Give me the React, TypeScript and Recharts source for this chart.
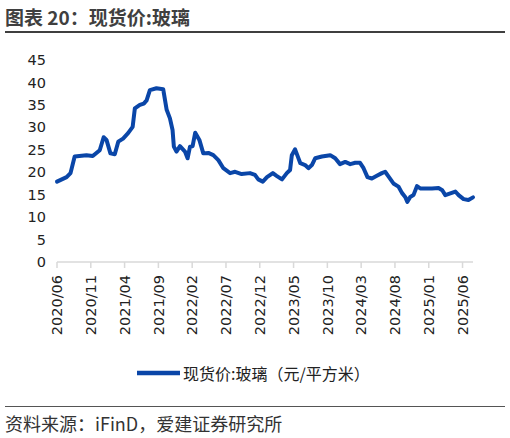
import React from "react";
import { LineChart, Line, XAxis, YAxis, Legend } from "recharts";

// 现货价:玻璃，元/平方米（读图估值）
const dates = [
  "2020-06-01", "2020-07-14", "2020-08-01", "2020-08-20", "2020-10-12", "2020-11-10",
  "2020-12-11", "2020-12-29", "2021-01-11", "2021-01-29", "2021-02-18", "2021-03-03",
  "2021-03-25", "2021-04-17", "2021-05-07", "2021-05-17", "2021-06-09", "2021-06-27",
  "2021-07-09", "2021-07-24", "2021-08-23", "2021-09-23", "2021-10-08", "2021-10-23",
  "2021-11-04", "2021-11-10", "2021-11-22", "2021-12-07", "2021-12-30", "2022-01-11",
  "2022-01-22", "2022-02-03", "2022-02-15", "2022-03-03", "2022-03-21", "2022-04-13",
  "2022-05-05", "2022-05-28", "2022-06-20", "2022-07-20", "2022-08-12", "2022-09-11",
  "2022-10-18", "2022-11-10", "2022-11-25", "2022-12-15", "2023-01-03", "2023-01-30",
  "2023-02-16", "2023-03-10", "2023-04-01", "2023-04-16", "2023-04-24", "2023-05-08",
  "2023-05-18", "2023-06-01", "2023-06-23", "2023-07-07", "2023-07-23", "2023-08-07",
  "2023-09-07", "2023-10-14", "2023-11-06", "2023-11-28", "2023-12-21", "2024-01-13",
  "2024-02-05", "2024-02-27", "2024-03-12", "2024-03-30", "2024-04-19", "2024-05-11",
  "2024-06-03", "2024-06-18", "2024-07-03", "2024-07-25", "2024-08-17", "2024-09-02",
  "2024-09-17", "2024-09-27", "2024-10-09", "2024-10-24", "2024-11-09", "2024-11-24",
  "2024-12-16", "2025-01-16", "2025-02-15", "2025-03-01", "2025-03-15", "2025-04-07",
  "2025-04-30", "2025-05-14", "2025-06-06", "2025-06-28", "2025-07-18",
];

const prices = [
  17.9, 18.9, 19.8, 23.5, 23.8, 23.6,
  24.9, 27.8, 27.2, 24.2, 24.0, 26.8,
  27.5, 28.7, 30.1, 34.2, 35.0, 35.3,
  36.0, 38.3, 38.7, 38.5, 33.9, 32.0,
  29.4, 25.7, 24.6, 25.8, 24.6, 23.1,
  25.7, 25.8, 28.8, 27.2, 24.2, 24.3,
  23.8, 22.7, 20.9, 19.8, 20.1, 19.6,
  19.8, 19.4, 18.4, 17.9, 18.9, 19.8,
  19.2, 18.4, 19.8, 20.5, 23.8, 25.1,
  23.8, 22.0, 21.6, 20.9, 21.6, 23.1,
  23.5, 23.8, 23.1, 21.8, 22.3, 21.8,
  22.1, 22.1, 20.9, 18.9, 18.6, 19.2,
  19.8, 20.1, 19.0, 17.5, 16.8, 15.4,
  14.5, 13.4, 14.5, 14.9, 16.9, 16.4,
  16.4, 16.4, 16.5, 16.0, 14.9, 15.3,
  15.7, 14.9, 14.0, 13.8, 14.4,
];

const tickLabels = [
  "2020/06", "2020/11", "2021/04", "2021/09", "2022/02", "2022/07", "2022/12",
  "2023/05", "2023/10", "2024/03", "2024/08", "2025/01", "2025/06",
];

const yTicks = [0, 5, 10, 15, 20, 25, 30, 35, 40, 45];

// 月序号：2020/06 = 0
const monthIndex = (s: string) => {
  const [y, m, d] = s.split(/[-/]/).map(Number);
  return (y - 2020) * 12 + (m - 6) + ((d || 1) - 1) / 31;
};

const data = dates.map((d, i) => ({ t: monthIndex(d), price: prices[i] }));
const xTicks = tickLabels.map(monthIndex);
const labelOf = (v: number) => tickLabels[xTicks.indexOf(v)] ?? "";

const font = "'DejaVu Sans', sans-serif";
const cjk = "'Noto Sans CJK SC', sans-serif";
const blue = "#0a46a8";

function RotatedTick(props: any) {
  const { x, y, payload } = props;
  return (
    <text
      x={x}
      y={y + 5}
      transform={`rotate(-90 ${x} ${y + 5})`}
      textAnchor="end"
      dy="0.36em"
      fill="#222"
      fontSize={14.5}
      fontFamily={font}
    >
      {labelOf(payload.value)}
    </text>
  );
}

function LegendBox() {
  return (
    <div
      style={{
        display: "flex",
        alignItems: "center",
        paddingLeft: 137,
        fontFamily: cjk,
        fontSize: 16,
        color: "#222",
        lineHeight: "20px",
      }}
    >
      <svg width={43} height={8} style={{ marginRight: 3 }}>
        <line x1={0} y1={4} x2={43} y2={4} stroke={blue} strokeWidth={4.5} />
      </svg>
      <span>现货价:玻璃（元/平方米）</span>
    </div>
  );
}

export default function App() {
  return (
    <div
      style={{
        position: "absolute",
        left: 0,
        top: 0,
        width: 510,
        height: 438,
        background: "#fff",
        fontFamily: cjk,
      }}
    >
      <div
        style={{
          position: "absolute",
          left: 5,
          top: 3,
          fontSize: 19,
          fontWeight: 700,
          color: "#3f3f3f",
          whiteSpace: "nowrap",
        }}
      >
        图表 20：现货价:玻璃
      </div>
      <div
        style={{
          position: "absolute",
          left: 5,
          top: 31,
          width: 500,
          height: 2,
          background: "#3f3f3f",
        }}
      />

      <div style={{ position: "absolute", left: 0, top: 0 }}>
        <LineChart
          width={510}
          height={400}
          data={data}
          margin={{ top: 60, right: 37, left: 0, bottom: 0 }}
        >
          <XAxis
            type="number"
            dataKey="t"
            domain={[data[0].t, data[data.length - 1].t]}
            ticks={xTicks}
            interval={0}
            tick={<RotatedTick />}
            tickSize={6}
            axisLine={{ stroke: "#d9d9d9", strokeWidth: 1.5 }}
            tickLine={{ stroke: "#d9d9d9", strokeWidth: 1.5 }}
            height={138}
          />
          <YAxis
            domain={[0, 45]}
            ticks={yTicks}
            interval={0}
            width={57}
            axisLine={false}
            tickLine={false}
            tickMargin={5}
            tick={{ fill: "#222", fontSize: 14.5, fontFamily: font }}
          />
          <Legend
            verticalAlign="middle"
            align="center"
            layout="horizontal"
            wrapperStyle={{ top: 363, left: 0, width: 510 }}
            content={<LegendBox />}
          />
          <Line
            type="linear"
            dataKey="price"
            stroke={blue}
            strokeWidth={4}
            dot={false}
            strokeLinejoin="round"
            strokeLinecap="round"
            isAnimationActive={false}
          />
        </LineChart>
      </div>

      <div
        style={{
          position: "absolute",
          left: 5,
          top: 406,
          width: 500,
          height: 1,
          background: "#555",
        }}
      />
      <div
        style={{
          position: "absolute",
          left: 5,
          top: 410,
          fontSize: 18,
          color: "#333",
          whiteSpace: "nowrap",
        }}
      >
        资料来源：iFinD，爱建证券研究所
      </div>
    </div>
  );
}
